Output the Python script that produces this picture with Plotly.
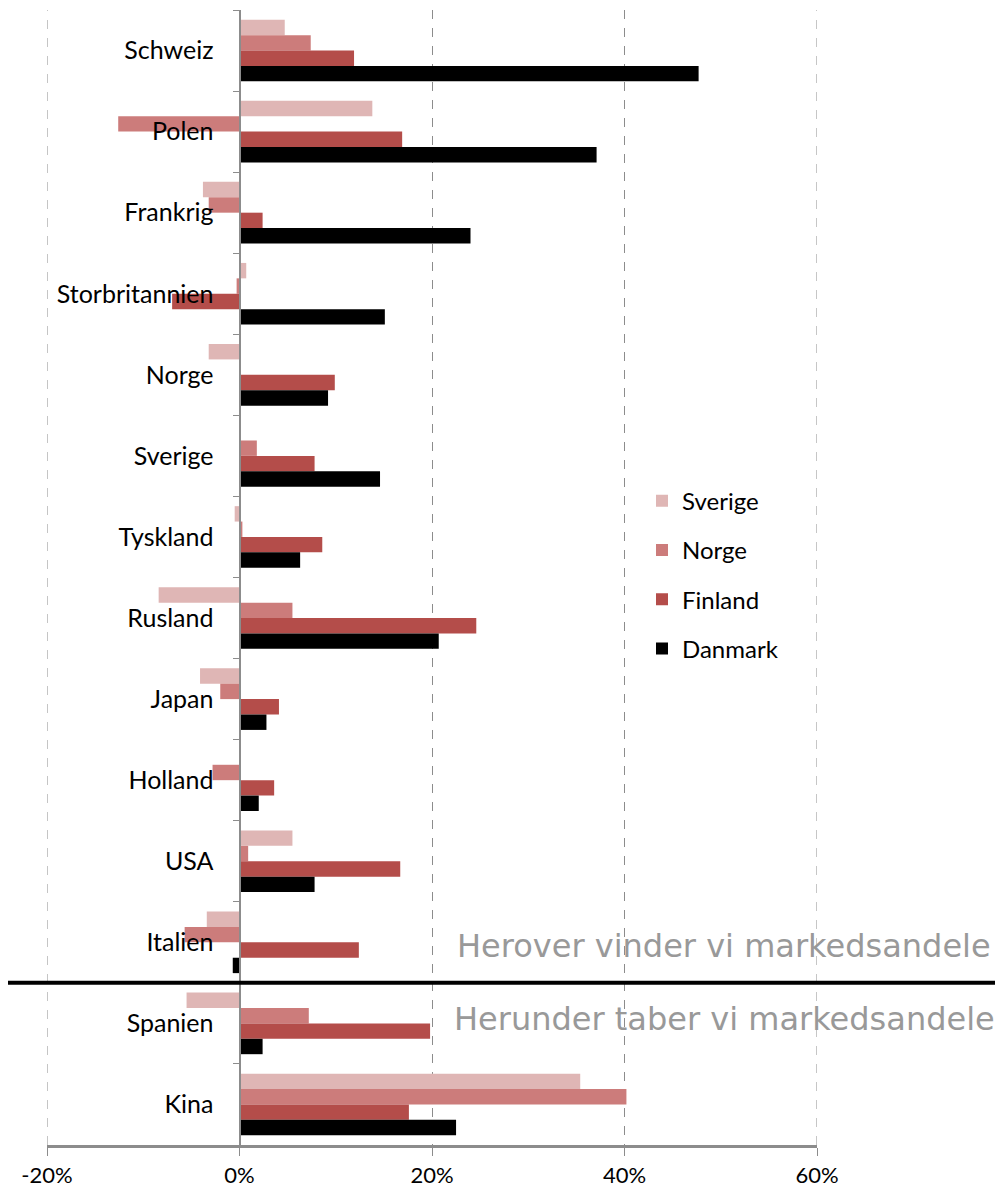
import plotly.graph_objects as go

categories = ["Schweiz", "Polen", "Frankrig", "Storbritannien", "Norge", "Sverige",
              "Tyskland", "Rusland", "Japan", "Holland", "USA", "Italien", "Spanien", "Kina"]

sverige = [0.047, 0.138, -0.038, 0.007, -0.032, 0.0, -0.005, -0.084, -0.041, 0.0, 0.055, -0.034, -0.055, 0.354]
norge = [0.074, -0.126, -0.032, -0.003, 0.0, 0.018, 0.003, 0.055, -0.020, -0.028, 0.009, -0.057, 0.072, 0.402]
finland = [0.119, 0.169, 0.024, -0.070, 0.099, 0.078, 0.086, 0.246, 0.041, 0.036, 0.167, 0.124, 0.198, 0.176]
danmark = [0.477, 0.371, 0.240, 0.151, 0.092, 0.146, 0.063, 0.207, 0.028, 0.020, 0.078, -0.007, 0.024, 0.225]

x_ticks = [-0.2, 0, 0.2, 0.4, 0.6]
x_tick_labels = ["-20%", "0%", "20%", "40%", "60%"]

series = [
    ("Sverige", sverige, "#DFB6B5"),
    ("Norge", norge, "#CC7C7B"),
    ("Finland", finland, "#B44D4A"),
    ("Danmark", danmark, "#000000"),
]

font = "Lato"
grid_color = "#8C8C8C"

fig = go.Figure()
for name, vals, color in series:
    fig.add_trace(go.Bar(
        y=categories, x=vals, name=name, orientation="h",
        marker=dict(color=color, line=dict(width=0)),
        legendgroup=name,
    ))

# page body has an 8px margin, so the figure sits at (8, 8)
fig.update_layout(
    width=987, height=1183,
    margin=dict(l=39, r=178, t=2, b=46),
    plot_bgcolor="white", paper_bgcolor="white",
    barmode="group", bargap=0.24, bargroupgap=0,
    font=dict(family=font, size=25, color="black"),
    legend=dict(
        x=1.0 - 175 / 770, y=0.587, xanchor="left", yanchor="top",
        traceorder="grouped", tracegroupgap=15,
        font=dict(size=24), itemwidth=30,
    ),
)

fig.update_xaxes(
    range=[-0.2, 0.6], tickvals=x_ticks, ticktext=x_tick_labels,
    showgrid=True, gridcolor=grid_color, griddash="dash", gridwidth=1,
    zeroline=False, showline=True, linecolor=grid_color, linewidth=3,
    ticks="outside", ticklen=8, tickcolor=grid_color, tickwidth=1,
    tickfont=dict(size=22), ticklabelstandoff=1, automargin=False,
    fixedrange=True,
)

fig.update_yaxes(
    autorange="reversed", anchor="free", position=0.25,
    showline=True, linecolor=grid_color, linewidth=2,
    ticks="outside", tickson="boundaries", ticklen=6, tickcolor=grid_color,
    showgrid=False, tickfont=dict(size=25), ticklabelstandoff=20,
    automargin=False,
)

# plotly drops grid lines sitting on the plot edges, draw those two by hand
for xv in (x_ticks[0], x_ticks[-1]):
    fig.add_shape(type="line", xref="x", yref="paper", x0=xv, x1=xv, y0=0, y1=1,
                  layer="below", line=dict(color=grid_color, width=1, dash="dash"))

# divider between Italien and Spanien
fig.add_shape(type="line", xref="paper", yref="y",
              x0=-39 / 770, x1=956 / 770, y0=11.5, y1=11.5,
              line=dict(color="black", width=4))

fig.add_annotation(text="Herover vinder vi markedsandele", xref="paper", yref="y",
                   x=946 / 770, y=11.05, xanchor="right", yanchor="middle",
                   showarrow=False, font=dict(family="DejaVu Sans", size=32, color="#999999"))
fig.add_annotation(text="Herunder taber vi markedsandele", xref="paper", yref="y",
                   x=950 / 770, y=11.95, xanchor="right", yanchor="middle",
                   showarrow=False, font=dict(family="DejaVu Sans", size=32, color="#999999"))

fig.write_html("out.html")
